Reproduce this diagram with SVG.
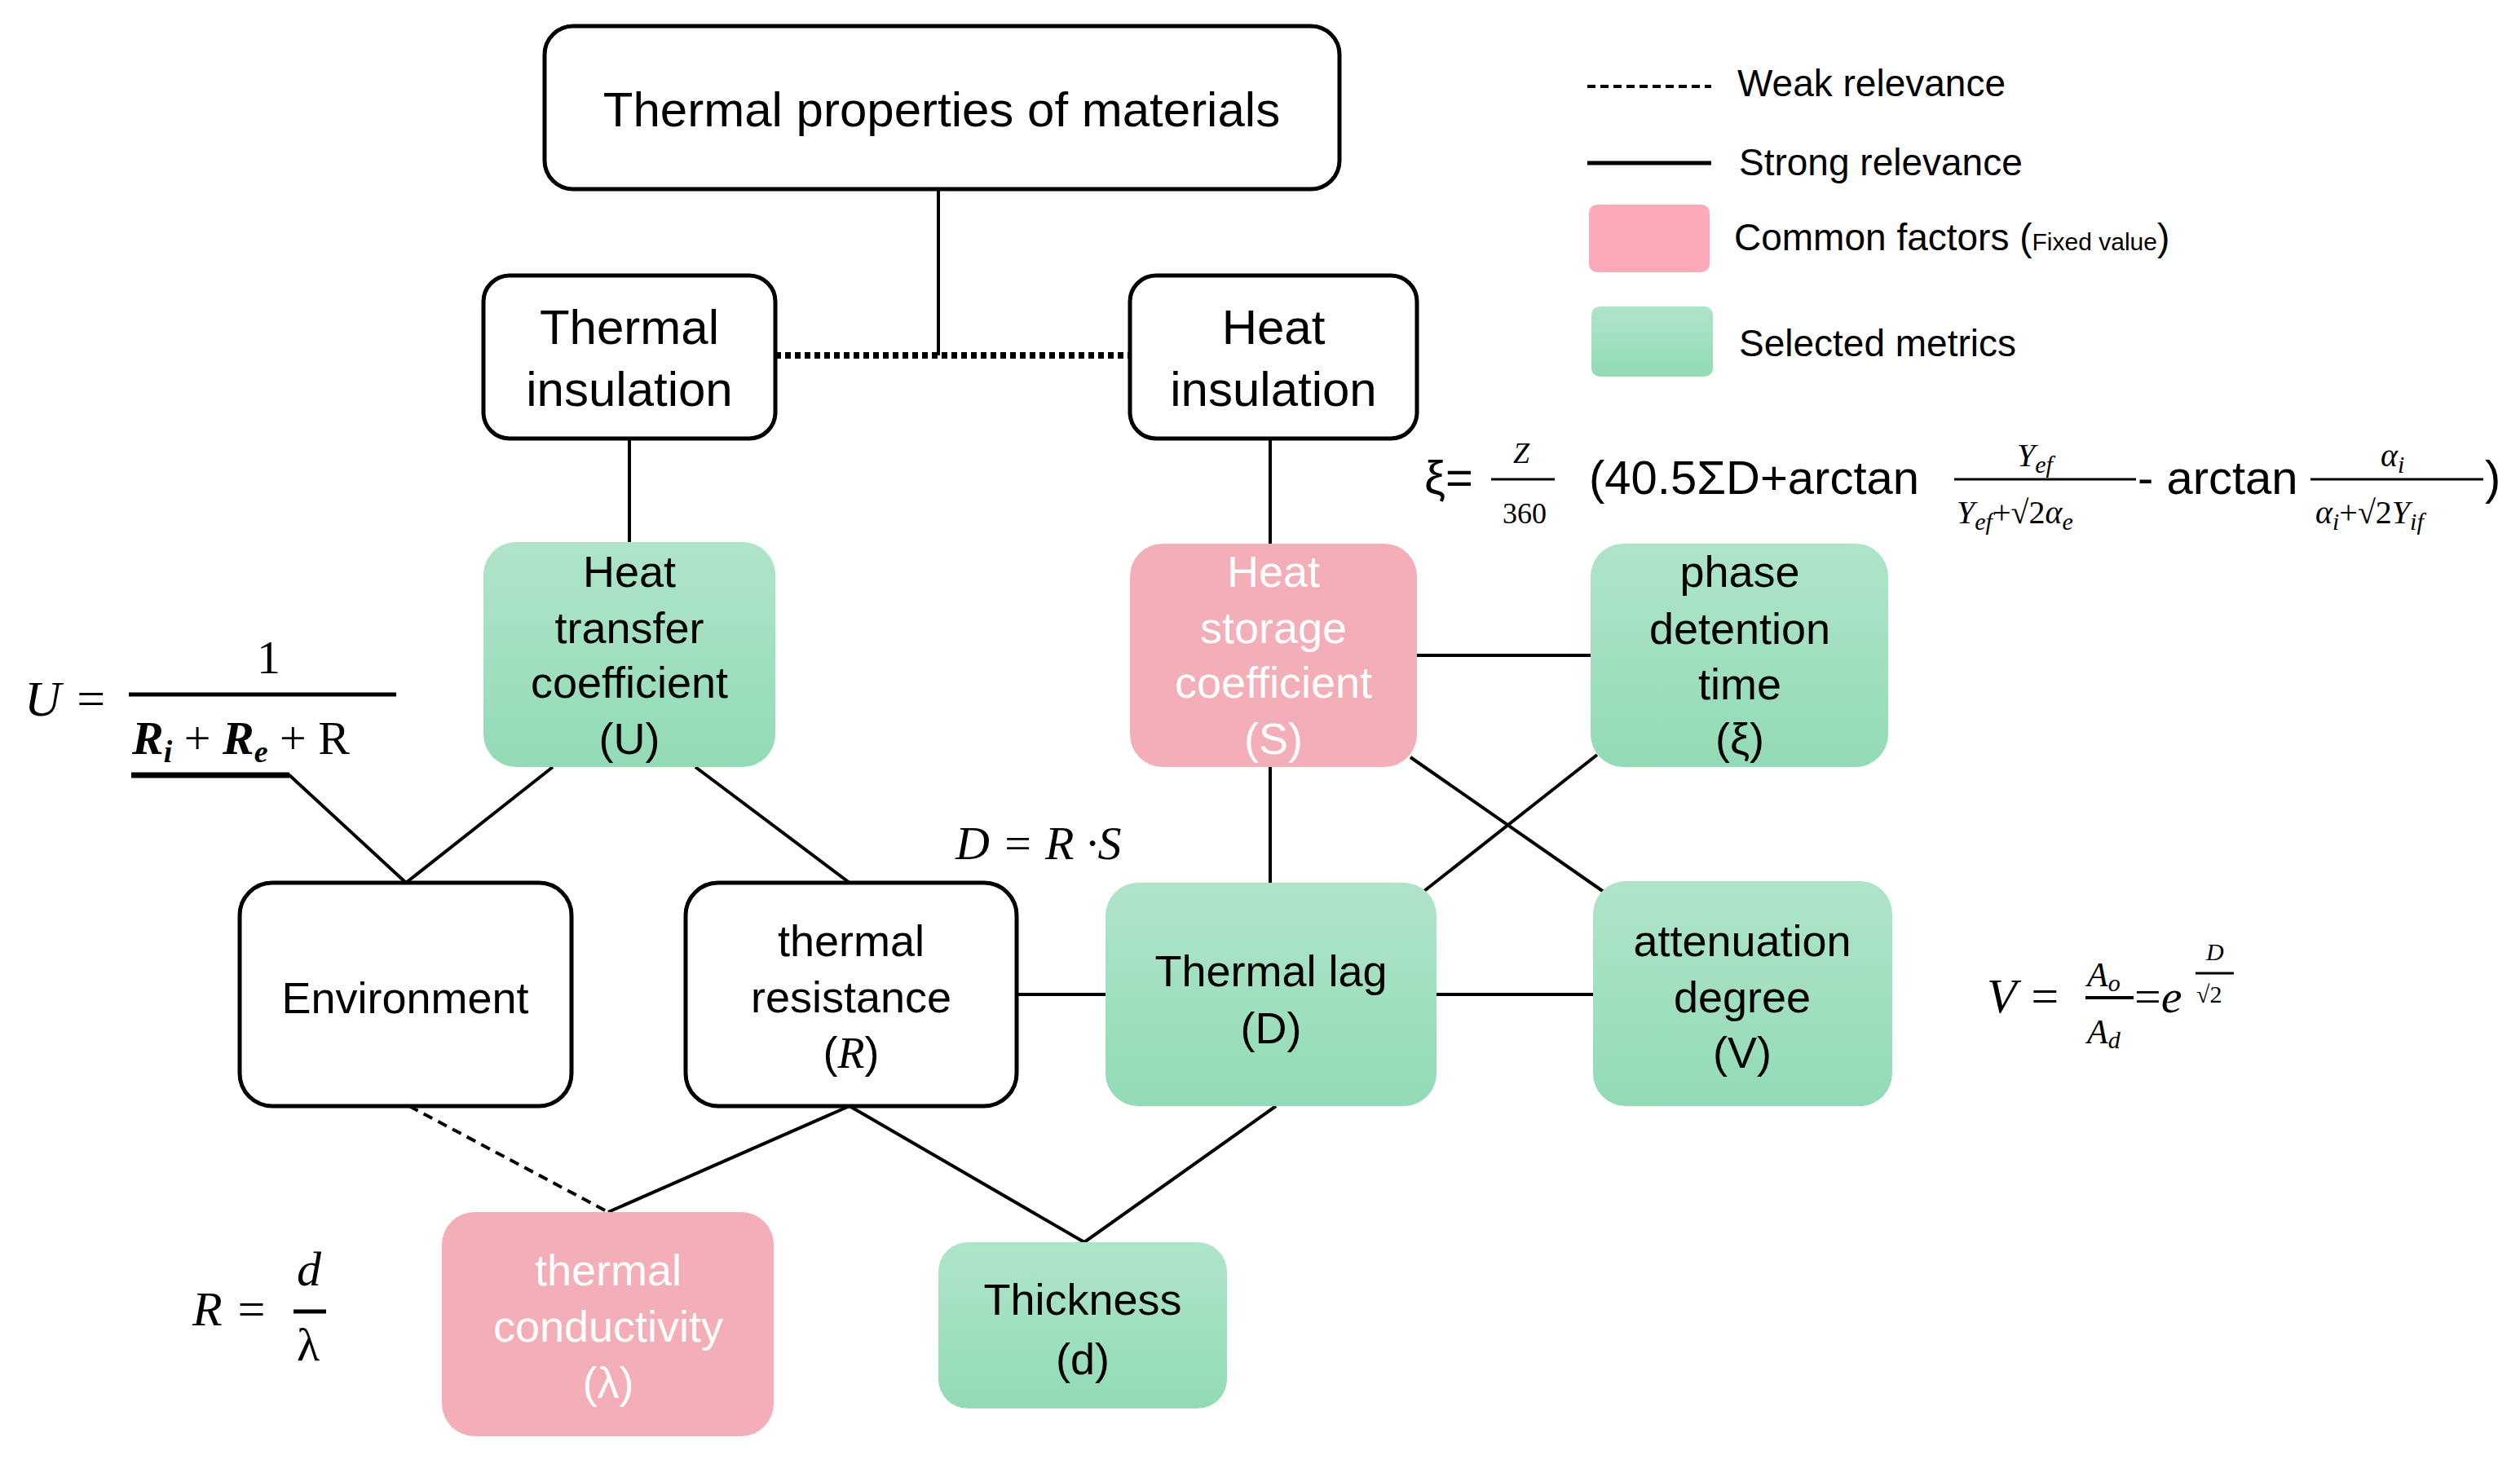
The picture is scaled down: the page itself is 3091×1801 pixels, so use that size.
<svg xmlns="http://www.w3.org/2000/svg" width="3091" height="1801" viewBox="0 0 3091 1801">
<defs>
<linearGradient id="g" x1="0" y1="0" x2="0" y2="1"><stop offset="0" stop-color="#afe4c9"/><stop offset="1" stop-color="#92dbb5"/></linearGradient>
<style>
.w{fill:#fff;stroke:#000;stroke-width:5}
.gr{fill:url(#g)}
.pk{fill:#f4aeb7}
text{font-family:"Liberation Sans",Arial,sans-serif;font-size:54px;fill:#000;text-anchor:middle}
.t60{font-size:60px}
.wt{fill:#fff}
.m{font-family:"Liberation Serif","DejaVu Serif",serif;font-style:italic;text-anchor:start}
.l{text-anchor:start;font-size:46px}
.c line,.c path{stroke:#000;stroke-width:4;fill:none}
</style>
</defs>
<g class="c" id="connectors">
<line x1="1151" y1="232" x2="1151" y2="436"/>
<line x1="951" y1="436" x2="1386" y2="436" style="stroke-width:8;stroke-dasharray:7 5"/>
<line x1="772" y1="538" x2="772" y2="665"/>
<line x1="1558" y1="538" x2="1558" y2="667"/>
<line x1="1737" y1="804" x2="1951" y2="804"/>
<line x1="1558" y1="941" x2="1558" y2="1083"/>
<line x1="1730" y1="929" x2="1967" y2="1094"/>
<line x1="1959" y1="926" x2="1747" y2="1093"/>
<line x1="1762" y1="1220" x2="1954" y2="1220"/>
<line x1="1247" y1="1220" x2="1356" y2="1220"/>
<line x1="678" y1="941" x2="498" y2="1083"/>
<line x1="853" y1="941" x2="1042" y2="1083"/>
<path d="M161 951 H355 L498 1083"/>
<line x1="161" y1="951" x2="355" y2="951" style="stroke-width:7"/>
<line x1="502" y1="1357" x2="746" y2="1487" style="stroke-dasharray:12 8"/>
<path d="M746 1487 L1042 1357 L1330 1524 L1565 1357"/>
</g>
<g id="n-top"><rect class="w" x="668" y="32" width="975" height="200" rx="35"/><text class="t60" x="1155" y="155">Thermal properties of materials</text></g>
<g id="n-thermal-ins"><rect class="w" x="593" y="338" width="358" height="200" rx="32"/><text class="t60" x="772" y="422">Thermal</text><text class="t60" x="772" y="498">insulation</text></g>
<g id="n-heat-ins"><rect class="w" x="1386" y="338" width="352" height="200" rx="32"/><text class="t60" x="1562" y="422">Heat</text><text class="t60" x="1562" y="498">insulation</text></g>
<g id="n-U"><rect class="gr" x="593" y="665" width="358" height="276" rx="40"/><text x="772" y="720">Heat</text><text x="772" y="789">transfer</text><text x="772" y="856">coefficient</text><text x="772" y="925">(U)</text></g>
<g id="n-S"><rect class="pk" x="1386" y="667" width="352" height="274" rx="40"/><text class="wt" x="1562" y="720">Heat</text><text class="wt" x="1562" y="789">storage</text><text class="wt" x="1562" y="856">coefficient</text><text class="wt" x="1562" y="925">(S)</text></g>
<g id="n-phase"><rect class="gr" x="1951" y="667" width="365" height="274" rx="40"/><text x="2134" y="720">phase</text><text x="2134" y="790">detention</text><text x="2134" y="858">time</text><text x="2134" y="925">(ξ)</text></g>
<g id="n-env"><rect class="w" x="294" y="1083" width="407" height="274" rx="40"/><text x="497" y="1243">Environment</text></g>
<g id="n-R"><rect class="w" x="841" y="1083" width="406" height="274" rx="40"/><text x="1044" y="1173">thermal</text><text x="1044" y="1242">resistance</text><text x="1044" y="1310">(<tspan style="font-family:'Liberation Serif',serif;font-style:italic">R</tspan>)</text></g>
<g id="n-D"><rect class="gr" x="1356" y="1083" width="406" height="274" rx="40"/><text x="1559" y="1210">Thermal lag</text><text x="1559" y="1280">(D)</text></g>
<g id="n-V"><rect class="gr" x="1954" y="1081" width="367" height="276" rx="40"/><text x="2137" y="1173">attenuation</text><text x="2137" y="1242">degree</text><text x="2137" y="1310">(V)</text></g>
<g id="n-lambda"><rect class="pk" x="542" y="1487" width="407" height="275" rx="40"/><text class="wt" x="746" y="1577">thermal</text><text class="wt" x="746" y="1646">conductivity</text><text class="wt" x="746" y="1715">(λ)</text></g>
<g id="n-d"><rect class="gr" x="1151" y="1524" width="354" height="204" rx="36"/><text x="1328" y="1613">Thickness</text><text x="1328" y="1686">(d)</text></g>
<g id="legend">
<line x1="1947" y1="106" x2="2099" y2="106" stroke="#000" stroke-width="4" stroke-dasharray="10 6"/>
<text class="l" x="2131" y="118">Weak relevance</text>
<line x1="1947" y1="200" x2="2099" y2="200" stroke="#000" stroke-width="5"/>
<text class="l" x="2133" y="215">Strong relevance</text>
<rect x="1949" y="251" width="148" height="83" rx="10" fill="#fca9ba"/>
<text class="l" x="2127" y="307">Common factors  (<tspan style="font-size:30px">Fixed value</tspan>)</text>
<rect x="1952" y="376" width="149" height="86" rx="10" fill="url(#g)"/>
<text class="l" x="2133" y="437">Selected metrics</text>
</g>
<g id="formulas">
<text class="m" x="30" y="878" style="font-size:62px">U =</text>
<text class="m" x="315" y="826" style="font-size:58px;font-style:normal">1</text>
<line x1="158" y1="852" x2="486" y2="852" stroke="#000" stroke-width="5"/>
<text class="m" x="162" y="925" style="font-size:58px"><tspan font-weight="bold">R</tspan><tspan font-weight="bold" font-size="38" dy="10">i</tspan><tspan dy="-10" font-style="normal"> + </tspan><tspan font-weight="bold">R</tspan><tspan font-weight="bold" font-size="38" dy="10">e</tspan><tspan dy="-10" font-style="normal"> + R</tspan></text>
<text class="m" x="1172" y="1054" style="font-size:58px">D = R ·S</text>
<text class="m" x="236" y="1626" style="font-size:60px">R =</text>
<text class="m" x="364" y="1577" style="font-size:60px">d</text>
<line x1="360" y1="1609" x2="400" y2="1609" stroke="#000" stroke-width="5"/>
<text class="m" x="364" y="1669" style="font-size:58px;font-style:normal">λ</text>
<text class="m" x="2437" y="1242" style="font-size:60px">V =</text>
<text class="m" x="2560" y="1210" style="font-size:42px">A<tspan font-size="30" dy="6">o</tspan></text>
<line x1="2558" y1="1224" x2="2617" y2="1224" stroke="#000" stroke-width="4"/>
<text class="m" x="2560" y="1280" style="font-size:42px">A<tspan font-size="30" dy="6">d</tspan></text>
<text class="m" x="2618" y="1242" style="font-size:58px"><tspan font-style="normal">=</tspan>e</text>
<text class="m" x="2706" y="1178" style="font-size:30px">D</text>
<line x1="2693" y1="1194" x2="2740" y2="1194" stroke="#000" stroke-width="3"/>
<text class="m" x="2694" y="1230" style="font-size:30px;font-style:normal">√2</text>
<text x="1747" y="606" style="font-size:58px;text-anchor:start">ξ=</text>
<text class="m" x="1856" y="568" style="font-size:36px">Z</text>
<line x1="1829" y1="588" x2="1907" y2="588" stroke="#000" stroke-width="3"/>
<text class="m" x="1843" y="642" style="font-size:36px;font-style:normal">360</text>
<text x="1949" y="606" style="font-size:58px;text-anchor:start">(40.5ΣD+arctan</text>
<line x1="2397" y1="588" x2="2620" y2="588" stroke="#000" stroke-width="3"/>
<text class="m" x="2474" y="572" style="font-size:40px">Y<tspan font-size="30" dy="8">ef</tspan></text>
<text class="m" x="2400" y="642" style="font-size:40px">Y<tspan font-size="30" dy="8">ef</tspan><tspan dy="-8" font-style="normal">+√2</tspan>α<tspan font-size="30" dy="8">e</tspan></text>
<text x="2622" y="606" style="font-size:58px;text-anchor:start">- arctan</text>
<line x1="2834" y1="588" x2="3046" y2="588" stroke="#000" stroke-width="3"/>
<text class="m" x="2920" y="572" style="font-size:40px">α<tspan font-size="30" dy="8">i</tspan></text>
<text class="m" x="2840" y="642" style="font-size:40px">α<tspan font-size="30" dy="8">i</tspan><tspan dy="-8" font-style="normal">+√2</tspan>Y<tspan font-size="30" dy="8">if</tspan></text>
<text x="3048" y="606" style="font-size:58px;text-anchor:start">)</text>
</g>
</svg>
